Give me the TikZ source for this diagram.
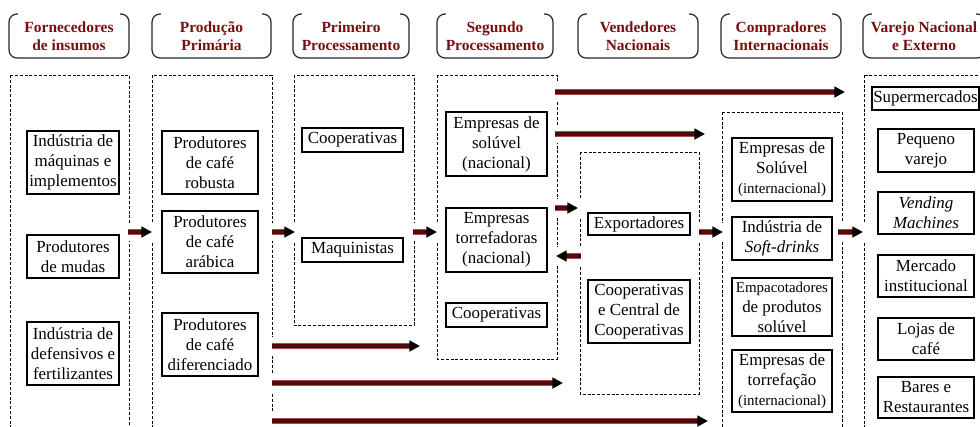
\documentclass[tikz,border=0pt]{standalone}
\usepackage{fontspec}
\setmainfont{Liberation Serif}
\usetikzlibrary{arrows.meta}
\definecolor{hdrred}{RGB}{120,15,15}
\definecolor{flowred}{RGB}{78,12,12}
\definecolor{flowshade}{RGB}{170,75,75}
\newcommand\cbox[6]{\node[cb, minimum width={(#4-#2)*0.75pt}, minimum height={(#5-#3)*0.75pt}] (#1) at ({(#2+#4)/2},{(#3+#5)/2}) {#6};}
\newcommand\hdrbox[6]{\node[hdr, minimum width={(#4-#2)*0.75pt}, minimum height={(#5-#3)*0.75pt}] (#1) at ({(#2+#4)/2},{(#3+#5)/2}) {#6};
\fill[white] ([xshift=7pt,yshift=2pt]#1.north west) rectangle ([xshift=-7pt,yshift=-3pt]#1.north east);}
\newcommand\smalltxt[1]{{\fontsize{11.2}{15}\selectfont #1}}
\begin{document}
\begin{tikzpicture}[x=0.75pt,y=-0.75pt,
  cont/.style={draw=black, line width=0.6pt, dash pattern=on 2.2pt off 1.4pt},
  cb/.style={draw=black, line width=0.8pt, inner sep=0pt, align=center, font=\fontsize{12.7}{15}\selectfont},
  hdr/.style={draw=black!85, line width=0.9pt, rounded corners=6pt, text=hdrred, inner sep=0pt, align=center, font=\bfseries\fontsize{11.6}{13.5}\selectfont},
  flow/.style={line width=3pt, draw=flowred, -{Triangle[length=8pt,width=8pt,color=black]},
    preaction={draw=white,line width=13pt,arrows=-,shorten <=-3pt,shorten >=-3pt},
    preaction={draw=flowshade,line width=4.2pt,arrows=-,shorten >=5pt}}]
\useasboundingbox (0,0) rectangle (980,426);
\clip (0,0) rectangle (980,426);

% headers
\hdrbox{h1}{9}{14}{129}{58}{Fornecedores\\de insumos}
\hdrbox{h2}{152}{14}{271}{58}{Produção\\Primária}
\hdrbox{h3}{293}{14}{409}{58}{Primeiro\\Processamento}
\hdrbox{h4}{437}{14}{553}{58}{Segundo\\Processamento}
\hdrbox{h5}{578}{14}{698}{58}{Vendedores\\Nacionais}
\hdrbox{h6}{721}{14}{841}{58}{Compradores\\Internacionais}
\hdrbox{h7}{863}{14}{985}{58}{Varejo Nacional\\e Externo}

% dashed containers
\draw[cont] (10,75) rectangle (129,440);
\draw[cont] (152,75) rectangle (272,440);
\draw[cont] (294,75) rectangle (414,325);
\draw[cont] (437,75) rectangle (557,359);
\draw[cont] (580,152) rectangle (699,394);
\draw[cont] (722,112) rectangle (842,440);
\draw[cont] (864,75) rectangle (1000,440);

% column 1
\cbox{b11}{27}{131}{119}{194}{Indústria de\\máquinas e\\implementos}
\cbox{b12}{27}{235}{119}{278}{Produtores\\de mudas}
\cbox{b13}{27}{322}{119}{385}{Indústria de\\defensivos e\\fertilizantes}
% column 2
\cbox{b21}{162}{131}{258}{194}{Produtores\\de café\\robusta}
\cbox{b22}{162}{211}{258}{273}{Produtores\\de café\\arábica}
\cbox{b23}{162}{313}{258}{376}{Produtores\\de café\\diferenciado}
% column 3
\cbox{b31}{302}{128}{403}{152}{Cooperativas}
\cbox{b32}{302}{238}{403}{262}{Maquinistas}
% column 4
\cbox{b41}{446}{112}{547}{176}{Empresas de\\solúvel\\(nacional)}
\cbox{b42}{446}{208}{547}{272}{Empresas\\torrefadoras\\(nacional)}
\cbox{b43}{446}{303}{547}{327}{Cooperativas}
% column 5
\cbox{b51}{588}{213}{690}{235}{Exportadores}
\cbox{b52}{588}{280}{690}{343}{Cooperativas\\e Central de\\Cooperativas}
% column 6
\cbox{b61}{732}{138}{832}{201}{Empresas de\\Solúvel\\\smalltxt{(internacional)}}
\cbox{b62}{732}{217}{832}{260}{Indústria de\\\textit{Soft-drinks}}
\cbox{b63}{732}{278}{832}{336}{\smalltxt{Empacotadores}\\de produtos\\solúvel}
\cbox{b64}{732}{350}{832}{412}{Empresas de\\torrefação\\\smalltxt{(internacional)}}
% column 7
\cbox{b71}{872}{87}{979}{110}{Supermercados}
\cbox{b72}{878}{129}{974}{172}{Pequeno\\varejo}
\cbox{b73}{878}{192}{974}{234}{\textit{Vending}\\\textit{Machines}}
\cbox{b74}{878}{255}{974}{297}{Mercado\\institucional}
\cbox{b75}{878}{318}{974}{360}{Lojas de\\café}
\cbox{b76}{878}{377}{974}{418}{Bares e\\Restaurantes}

% arrow end points
\coordinate (a1s) at (128,232);  \coordinate (a1e) at (152,232);
\coordinate (a2s) at (272,232);  \coordinate (a2e) at (295,232);
\coordinate (a3s) at (413,232);  \coordinate (a3e) at (437,232);
\coordinate (a4s) at (555,92);   \coordinate (a4e) at (845,92);
\coordinate (a5s) at (555,134);  \coordinate (a5e) at (705,134);
\coordinate (a6s) at (555,208);  \coordinate (a6e) at (578,208);
\coordinate (a7s) at (581,256);  \coordinate (a7e) at (556,256);
\coordinate (a8s) at (699,232);  \coordinate (a8e) at (723,232);
\coordinate (a9s) at (838,232);  \coordinate (a9e) at (863,232);
\coordinate (a10s) at (272,346); \coordinate (a10e) at (420,346);
\coordinate (a11s) at (272,383); \coordinate (a11e) at (563,383);
\coordinate (a12s) at (272,421); \coordinate (a12e) at (708,421);

\foreach \i in {1,...,12} {\draw[flow] (a\i s) -- (a\i e);}
\end{tikzpicture}
\end{document}
